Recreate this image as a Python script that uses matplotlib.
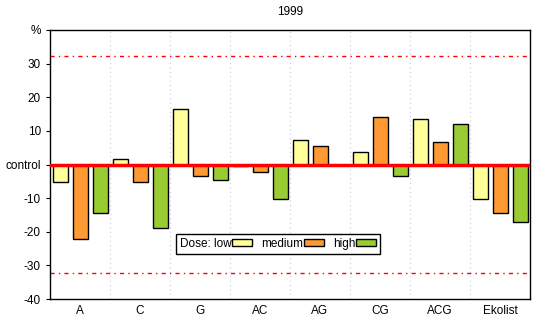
import matplotlib.pyplot as plt
import numpy as np

plt.rcParams['font.family'] = ['Liberation Sans', 'DejaVu Sans']

groups = ['A', 'C', 'G', 'AC', 'AG', 'CG', 'ACG', 'Ekolist']
low = [-5.2, 1.5, 16.5, -0.5, 7.2, 3.7, 13.4, -10.3]
medium = [-22.2, -5.2, -3.4, -2.2, 5.4, 14.0, 6.7, -14.4]
high = [-14.5, -18.9, -4.6, -10.2, 0.0, -3.4, 11.9, -17.1]
limit = 32.3

x = np.arange(len(groups))
fig = plt.figure(figsize=(5.46, 3.25), dpi=100)
ax = fig.add_axes([50 / 546, 26 / 325, 480 / 546, 269 / 325])

w = 0.25
off = 1 / 3
ax.bar(x - off, low, w, color='#ffff99', edgecolor='black', linewidth=1, label='Dose: low', zorder=2)
ax.bar(x, medium, w, color='#ff9933', edgecolor='black', linewidth=1, label='medium', zorder=2)
hi = [v if v != 0 else np.nan for v in high]
ax.bar(x + off, hi, w, color='#99cc33', edgecolor='black', linewidth=1, label='high', zorder=2)

for b in np.arange(0.5, len(groups) - 0.5, 1):
    ax.axvline(b, color='#c8c8e0', linestyle=(0, (1, 3)), linewidth=0.8, zorder=0)

ax.axhline(0, color='red', linewidth=2.5, zorder=3)
ax.axhline(limit, color='red', linestyle=(0, (3, 3, 1, 3)), linewidth=1, zorder=1)
ax.axhline(-limit, color='red', linestyle=(0, (3, 3, 1, 3)), linewidth=1, zorder=1)

ax.set_xlim(-0.5, len(groups) - 0.5)
ax.set_ylim(-40, 40)
ax.set_yticks([-40, -30, -20, -10, 0, 10, 20, 30, 40])
ax.set_yticklabels(['-40', '-30', '-20', '-10', 'control', '10', '20', '30', '%'])
ax.set_xticks(x)
ax.set_xticklabels(groups)
ax.tick_params(axis='both', labelsize=8.5, length=3, width=0.8)
ax.tick_params(axis='x', length=0, pad=4)
for s in ax.spines.values():
    s.set_linewidth(1)

ax.set_title('1999', fontsize=8.5, pad=11)

leg = ax.legend(ncol=3, markerfirst=False, loc='center', bbox_to_anchor=(0.475, 0.2045),
                fontsize=8.5, frameon=True, fancybox=False, edgecolor='black', framealpha=1,
                handlelength=1.7, handleheight=0.55, handletextpad=0.0, columnspacing=0.8,
                borderpad=0.35, borderaxespad=0)
leg.get_frame().set_linewidth(1)

fig.savefig('out.png', dpi=100)
